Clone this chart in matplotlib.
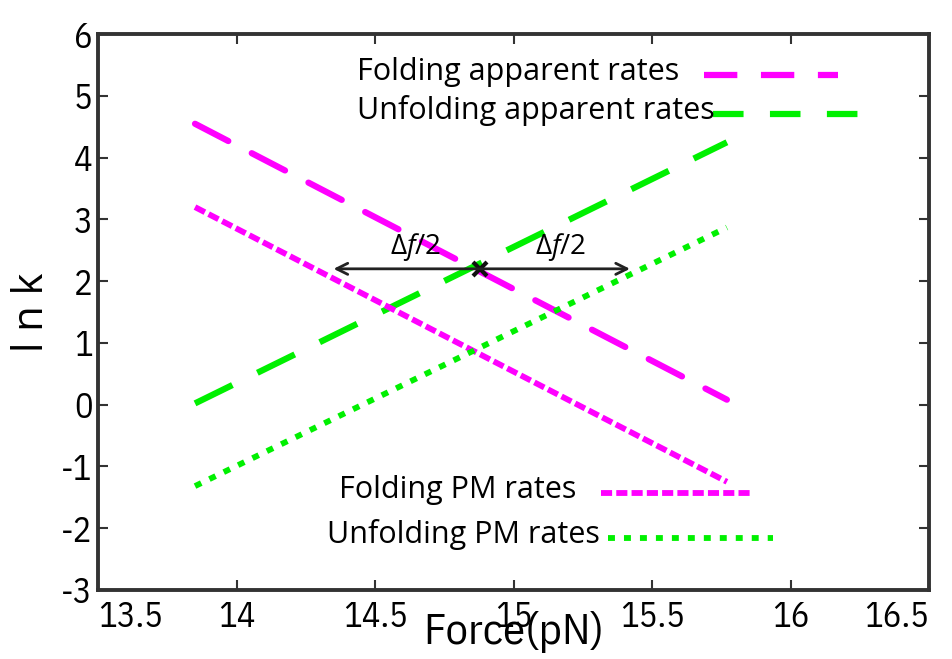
import numpy as np
import matplotlib
matplotlib.use("Agg")
import matplotlib.pyplot as plt

plt.rcParams['font.family'] = ['IBM Plex Sans Condensed', 'DejaVu Sans']
plt.rcParams['axes.unicode_minus'] = False
plt.rcParams['lines.scale_dashes'] = False
plt.rcParams['mathtext.fontset'] = 'custom'
plt.rcParams['mathtext.rm'] = 'Open Sans'
plt.rcParams['mathtext.it'] = 'Open Sans:italic'

# data
force_ends = [13.85, 15.77]
fold_apparent = [4.55, 0.08]
unfold_apparent = [0.02, 4.25]
fold_pm = [3.2, -1.25]
unfold_pm = [-1.32, 2.87]

cross_point = (14.88, 2.2)
arrow_left = 14.35
arrow_right = 15.42

xticks = [13.5, 14, 14.5, 15, 15.5, 16, 16.5]
xtick_labels = ['13.5', '14', '14.5', '15', '15.5', '16', '16.5']
yticks = list(range(-3, 7))

magenta = '#ff00ff'
green = '#00f000'
txt_font = 'Open Sans'

fig = plt.figure(figsize=(9.52, 6.59), dpi=100)
ax = fig.add_axes([0.103, 0.105, 0.873, 0.843])

ax.plot(force_ends, fold_apparent, color=magenta, lw=4.5, dashes=(27, 19), dash_capstyle='round')
ax.plot(force_ends, unfold_apparent, color=green, lw=4.5, dashes=(30, 20))
ax.plot(force_ends, fold_pm, color=magenta, lw=4.2, dashes=(8, 3), dash_capstyle='butt')
ax.plot(force_ends, unfold_pm, color=green, lw=4.2, dashes=(5, 6.5), dash_capstyle='butt')

# delta f / 2 arrows
ax.annotate('', xy=(arrow_left, cross_point[1]), xytext=cross_point,
            arrowprops=dict(arrowstyle='->', color='#222222', lw=2, mutation_scale=20, shrinkA=0, shrinkB=0))
ax.annotate('', xy=(arrow_right, cross_point[1]), xytext=cross_point,
            arrowprops=dict(arrowstyle='->', color='#222222', lw=2, mutation_scale=20, shrinkA=0, shrinkB=0))
ax.plot([cross_point[0]], [cross_point[1]], marker='x', color='#111111', ms=10, mew=3)
for cx in [(arrow_left + cross_point[0]) / 2 + 0.03, (arrow_right + cross_point[0]) / 2 + 0.02]:
    ax.text(cx, cross_point[1] + 0.1, r'$\Delta\mathit{f}/2$', fontsize=20, ha='center', va='bottom')

# legend-like labels with line samples (axes coords)
legend_rows = [
    ('Folding apparent rates', 0.311, 0.932, 0.729, 0.890, magenta, 4.5, (24, 17)),
    ('Unfolding apparent rates', 0.311, 0.862, 0.740, 0.922, green, 4.5, (22, 19)),
    ('Folding PM rates', 0.290, 0.180, 0.605, 0.784, magenta, 4.2, (8, 3)),
    ('Unfolding PM rates', 0.276, 0.100, 0.613, 0.812, green, 4.2, (5, 6.5)),
]
for label, tx, ty, lx0, lx1, col, lw, dsh in legend_rows:
    ax.text(tx, ty, label, transform=ax.transAxes, fontsize=22,
            va='center', ha='left', family=txt_font)
    ax.plot([lx0, lx1], [ty - 0.006, ty - 0.006], transform=ax.transAxes,
            color=col, lw=lw, dashes=dsh, dash_capstyle='butt')

ax.set_xlim(13.5, 16.5)
ax.set_ylim(-3, 6)
ax.set_xticks(xticks)
ax.set_xticklabels(xtick_labels)
ax.set_yticks(yticks)
ax.tick_params(direction='in', length=7, width=1.5, labelsize=25, top=True, right=True, color='#333333', pad=4)
ax.tick_params(axis='x', pad=7)
xlabs = ax.get_xticklabels()
xlabs[0].set_ha('left')
xlabs[-1].set_ha('right')
for s in ax.spines.values():
    s.set_linewidth(2.8)
    s.set_color('#333333')

ax.set_xlabel('Force(pN)', fontsize=32, labelpad=-16)
ax.set_ylabel('l n k', fontsize=30, labelpad=6, family=txt_font)

fig.savefig('out.png', dpi=100)
